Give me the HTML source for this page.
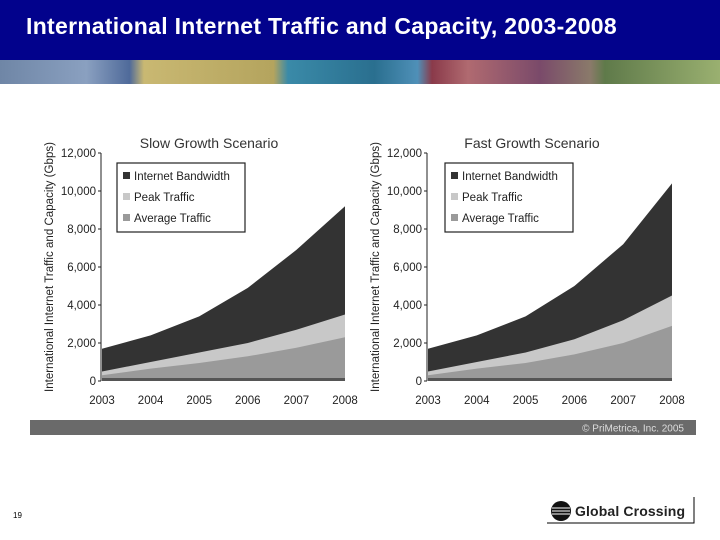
<!DOCTYPE html>
<html><head><meta charset="utf-8"><style>
body{margin:0;width:720px;height:540px;overflow:hidden;background:#fff;font-family:"Liberation Sans",sans-serif}
#hdr{position:absolute;left:0;top:0;width:720px;height:60px;background:#02028c}
#ttl{position:absolute;left:26px;top:13px;color:#fff;font-size:23px;font-weight:bold;letter-spacing:0.3px;white-space:nowrap}
#strip{position:absolute;left:0;top:60px;width:720px;height:24px;background:linear-gradient(90deg,#6f86a6 0%,#8aa0c0 12%,#4f6a9a 18%,#c9b872 20%,#b4a45e 38%,#3a8aa8 40%,#2a6f8f 52%,#4f90b8 58%,#8a3a4a 60%,#b06a70 65%,#7a4a6a 75%,#8a7a6a 82%,#5f7a4a 84%,#9ab070 100%)}
</style></head><body>
<div id="hdr"><div id="ttl">International Internet Traffic and Capacity, 2003-2008</div></div>
<div id="strip"></div>
<svg id="svg" width="720" height="540" style="position:absolute;left:0;top:0">
<rect x="30" y="420" width="666" height="15" fill="#6a6a6a"/>
<text x="684" y="431.5" text-anchor="end" font-size="10" fill="#ddd">© PriMetrica, Inc. 2005</text>
<text x="13" y="518" font-size="8" fill="#000">19</text>
<g>
<circle cx="561" cy="511" r="10" fill="#111"/>
<line x1="552" y1="508" x2="570" y2="508" stroke="#fff" stroke-width="1"/>
<line x1="552" y1="511" x2="570" y2="511" stroke="#fff" stroke-width="1"/>
<line x1="552" y1="514" x2="570" y2="514" stroke="#fff" stroke-width="1"/>
<text x="575" y="516" font-size="14" font-weight="bold" fill="#222" textLength="110">Global Crossing</text>
<polyline points="547,523 694,523 694,497" fill="none" stroke="#000" stroke-width="1"/>
</g>
</svg>
<script>
const years=["2003","2004","2005","2006","2007","2008"];
const yTicks=[0,2000,4000,6000,8000,10000,12000];
const slowBandwidth=[1700,2400,3400,4900,6900,9200];
const slowPeak=[500,1000,1500,2000,2700,3500];
const slowAverage=[300,650,950,1300,1750,2300];
const fastBandwidth=[1700,2400,3400,5000,7200,10400];
const fastPeak=[500,1000,1500,2200,3200,4500];
const fastAverage=[300,650,950,1400,2000,2900];
const NS="http://www.w3.org/2000/svg";
const svg=document.getElementById('svg');
function mk(tag,attrs,parent,text){const e=document.createElementNS(NS,tag);for(const k in attrs)e.setAttribute(k,attrs[k]);if(text!=null)e.textContent=text;(parent||svg).appendChild(e);return e;}
function chart(x0,x1,title,titleX,bw,pk,av,prefix,legX){
  const y0=381,yTop=153,max=12000;
  const ys=v=>y0-(v/max)*(y0-yTop);
  const xs=i=>x0+i*(x1-x0)/(years.length-1);
  const g=mk('g',{});
  
  
  function area(vals,fill,name){
    let d='M'+xs(0)+','+y0;
    vals.forEach((v,i)=>{d+=' L'+xs(i)+','+ys(v);});
    d+=' L'+xs(vals.length-1)+','+y0+' Z';
    const p=mk('path',{d:d,fill:fill},g);
    
    
  }
  area(bw,'#333333',prefix+'-bandwidth-area');
  area(pk,'#c8c8c8',prefix+'-peak-area');
  area(av,'#9a9a9a',prefix+'-average-area');
  mk('rect',{x:x0,y:y0-3,width:x1-x0,height:3,fill:'#555'},g);
  const ax=mk('line',{x1:x0-1,y1:yTop,x2:x0-1,y2:y0,stroke:'#222','stroke-width':1},g);
  
  
  yTicks.forEach(t=>{
    mk('line',{x1:x0-4,y1:ys(t),x2:x0-1,y2:ys(t),stroke:'#222'},g);
    const tx=mk('text',{x:x0-6,y:ys(t)+4,'text-anchor':'end','font-size':11.5,fill:'#222'},g,t.toLocaleString('en-US'));
    
    
  });
  years.forEach((yr,i)=>{
    const tx=mk('text',{x:xs(i),y:404,'text-anchor':'middle','font-size':11.5,fill:'#222'},g,yr);
    
    
  });
  const t=mk('text',{x:titleX,y:148,'text-anchor':'middle','font-size':14,fill:'#333'},g,title);
  
  
  const yt=mk('text',{x:0,y:0,'text-anchor':'middle','font-size':11.5,fill:'#222',textLength:250,transform:'translate('+(x0-49)+',267) rotate(-90)'},g,'International Internet Traffic and Capacity (Gbps)');
  
  
  const lg=mk('g',{},g);
  
  
  mk('rect',{x:legX,y:163,width:128,height:69,fill:'#fff',stroke:'#222','stroke-width':1.2},lg);
  [['Internet Bandwidth','#333'],['Peak Traffic','#c8c8c8'],['Average Traffic','#9a9a9a']].forEach((e,i)=>{
    const eg=mk('g',{},lg);
    
    
    mk('rect',{x:legX+6,y:172+i*21,width:7,height:7,fill:e[1]},eg);
    mk('text',{x:legX+17,y:180+i*21,'font-size':11.5,fill:'#222'},eg,e[0]);
  });
}
chart(102,345,'Slow Growth Scenario',209,slowBandwidth,slowPeak,slowAverage,'slow',117);
chart(428,672,'Fast Growth Scenario',532,fastBandwidth,fastPeak,fastAverage,'fast',445);
</script>
</body></html>
